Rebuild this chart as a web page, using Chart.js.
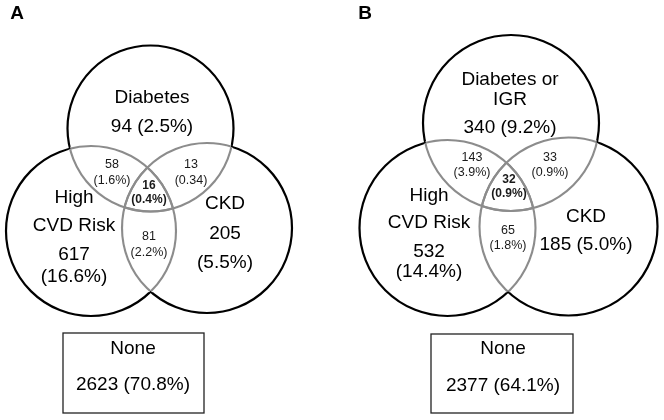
<!DOCTYPE html>
<html><head><meta charset="utf-8">
<script src="https://cdn.jsdelivr.net/npm/chart.js@4/dist/chart.umd.min.js"></script>
<style>html,body{margin:0;padding:0;background:#fff}#wrap{width:664px;height:420px;position:relative}</style>
</head><body><div id="wrap"><canvas id="c"></canvas></div>
<script>
// ---- data ----
const panelLetters = ['A', 'B'];
const setNamesA = [['Diabetes'], ['High', 'CVD Risk'], ['CKD']];
const setNamesB = [['Diabetes or', 'IGR'], ['High', 'CVD Risk'], ['CKD']];
// regions: top only, left only, right only, top&left, top&right, left&right, all three, none
const regionKeys = ['top', 'left', 'right', 'topLeft', 'topRight', 'leftRight', 'all', 'none'];
const countsA = [94, 617, 205, 58, 13, 81, 16, 2623];
const percentsA = ['2.5%', '16.6%', '5.5%', '1.6%', '0.34', '2.2%', '0.4%', '70.8%'];
const countsB = [340, 532, 185, 143, 33, 65, 32, 2377];
const percentsB = ['9.2%', '14.4%', '5.0%', '3.9%', '0.9%', '1.8%', '0.9%', '64.1%'];
const noneLabel = 'None';

// ---- layout (positions / sizes only) ----
const layout = [
  { letter: [17, 14],
    circles: [[150.5, 128.5, 83], [91, 231, 85], [207, 228, 85]],
    box: [63, 333, 204, 413],
    text: {
      top:       { at: [152, 98],  fmt: ['@name', '{n} ({p})'], step: 29 },
      left:      { at: [74, 198],  fmt: ['@name', '{n}', '({p})'], steps: [28, 29, 22] },
      right:     { at: [225, 204], fmt: ['@name', '{n}', '({p})'], steps: [30, 29] },
      topLeft:   { at: [112, 165], fmt: ['{n}', '({p})'], small: true, step: 16 },
      topRight:  { at: [191, 165], fmt: ['{n}', '({p})'], small: true, step: 16 },
      leftRight: { at: [149, 237], fmt: ['{n}', '({p})'], small: true, step: 16 },
      all:       { at: [149, 186], fmt: ['{n}', '({p})'], small: true, bold: true, step: 14 },
      none:      { at: [133, 349], fmt: ['@none', '{n} ({p})'], step: 36 }
    } },
  { letter: [365, 14],
    circles: [[511, 123, 88], [447.5, 228, 88], [568.5, 226.5, 89]],
    box: [431, 334, 573, 413],
    text: {
      top:       { at: [510, 80],  fmt: ['@name', '{n} ({p})'], steps: [20, 28] },
      left:      { at: [429, 196], fmt: ['@name', '{n}', '({p})'], steps: [27, 29, 20] },
      right:     { at: [586, 217], fmt: ['@name', '{n} ({p})'], steps: [28] },
      topLeft:   { at: [472, 158], fmt: ['{n}', '({p})'], small: true, step: 15 },
      topRight:  { at: [550, 158], fmt: ['{n}', '({p})'], small: true, step: 15 },
      leftRight: { at: [508, 231], fmt: ['{n}', '({p})'], small: true, step: 15 },
      all:       { at: [509, 180], fmt: ['{n}', '({p})'], small: true, bold: true, step: 14 },
      none:      { at: [503, 349], fmt: ['@none', '{n} ({p})'], step: 37 }
    } }
];
const panelData = [
  { names: setNamesA, counts: countsA, percents: percentsA },
  { names: setNamesB, counts: countsB, percents: percentsB }
];

const FONT = '"Liberation Sans", Arial, sans-serif';

const vennPlugin = {
  id: 'venn',
  afterDatasetsDraw(chart) {
    const ctx = chart.ctx, xs = chart.scales.x, ys = chart.scales.y;
    const px = v => xs.getPixelForValue(v), py = v => ys.getPixelForValue(v);
    layout.forEach((L, pi) => {
      const D = panelData[pi];
      // grey inner arcs (white underlay removes black fringe)
      [['#ffffff', 3.6], ['#8c8c8c', 2.1]].forEach(([col, w]) => {
        L.circles.forEach((ci, i) => {
          L.circles.forEach((cj, j) => {
            if (i === j) return;
            ctx.save();
            ctx.beginPath();
            ctx.arc(px(cj[0]), py(cj[1]), cj[2] - 0.6, 0, Math.PI * 2);
            ctx.clip();
            ctx.beginPath();
            ctx.arc(px(ci[0]), py(ci[1]), ci[2], 0, Math.PI * 2);
            ctx.strokeStyle = col;
            ctx.lineWidth = w;
            ctx.stroke();
            ctx.restore();
          });
        });
      });
      // none box
      const b = L.box;
      ctx.save();
      ctx.strokeStyle = '#222';
      ctx.lineWidth = 1.3;
      ctx.strokeRect(px(b[0]), py(b[1]), px(b[2]) - px(b[0]), py(b[3]) - py(b[1]));
      ctx.restore();
      // panel letter
      ctx.save();
      ctx.fillStyle = '#000';
      ctx.font = 'bold 19px ' + FONT;
      ctx.textAlign = 'center';
      ctx.textBaseline = 'middle';
      ctx.fillText(panelLetters[pi], px(L.letter[0]), py(L.letter[1]));
      ctx.restore();
      // region labels
      regionKeys.forEach((key, ri) => {
        const T = L.text[key];
        const n = D.counts[ri], p = D.percents[ri];
        let lines = [];
        T.fmt.forEach(f => {
          if (f === '@name') lines = lines.concat(D.names[ri]);
          else if (f === '@none') lines.push(noneLabel);
          else lines.push(f.replace('{n}', n).replace('{p}', p));
        });
        ctx.save();
        ctx.fillStyle = T.small ? '#1a1a1a' : '#000';
        ctx.font = (T.bold ? 'bold ' : '') + (T.small ? (T.bold ? '12px ' : '12.5px ') : '19px ') + FONT;
        ctx.textAlign = 'center';
        ctx.textBaseline = 'middle';
        let y = T.at[1];
        lines.forEach((ln, k) => {
          ctx.fillText(ln, px(T.at[0]), py(y));
          y += T.steps ? (T.steps[k] || 0) : T.step;
        });
        ctx.restore();
      });
    });
  }
};

const bubbleData = [];
layout.forEach(L => L.circles.forEach(c => bubbleData.push({ x: c[0], y: c[1], r: c[2] })));

new Chart(document.getElementById('c'), {
  type: 'bubble',
  data: { datasets: [{
    data: bubbleData,
    backgroundColor: 'rgba(0,0,0,0)',
    borderColor: '#000',
    borderWidth: 2.2,
    clip: false
  }] },
  options: {
    responsive: true,
    maintainAspectRatio: false,
    animation: false,
    events: [],
    layout: { padding: 0, autoPadding: false },
    plugins: { legend: { display: false }, tooltip: { enabled: false } },
    scales: {
      x: { type: 'linear', min: 0, max: 664, display: false },
      y: { type: 'linear', min: 0, max: 420, reverse: true, display: false }
    }
  },
  plugins: [vennPlugin]
});
</script></body></html>
